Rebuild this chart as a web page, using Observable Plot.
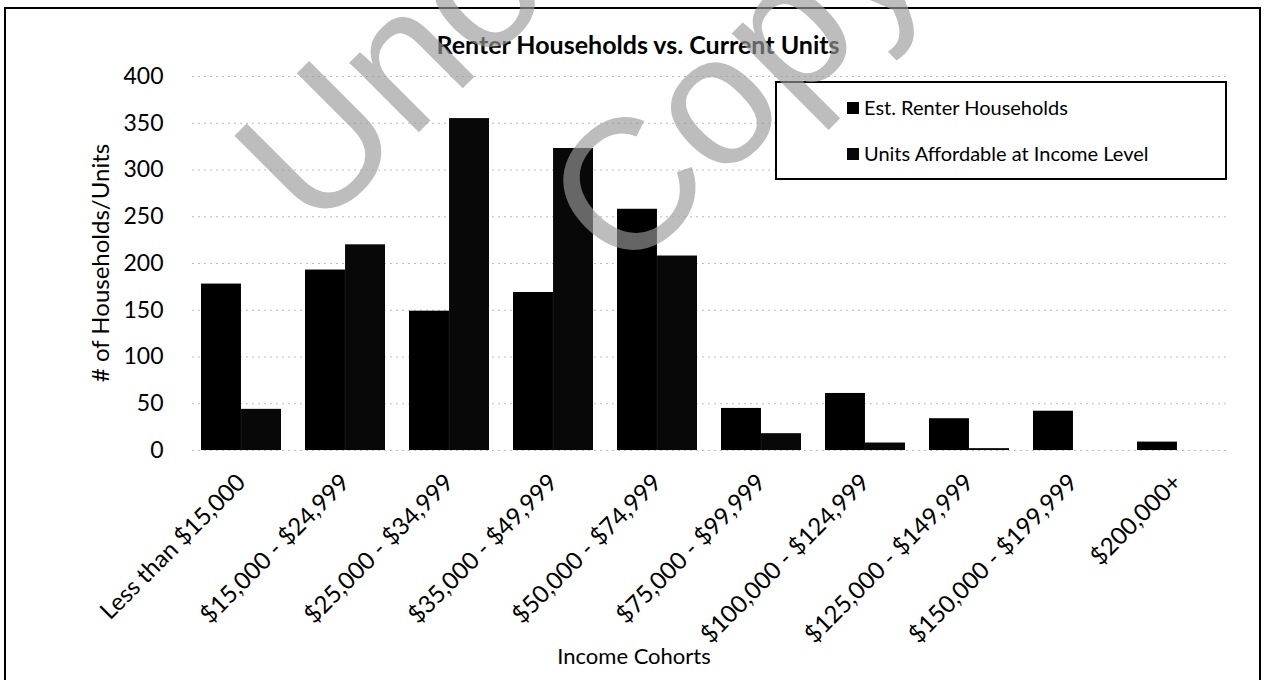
<!DOCTYPE html>
<html>
<head>
<meta charset="utf-8">
<script src="https://cdn.jsdelivr.net/npm/d3@7"></script>
<script src="https://cdn.jsdelivr.net/npm/@observablehq/plot@0.6"></script>
<style>
  html, body { margin: 0; padding: 0; background: #fff; }
  #wrap { position: relative; width: 1272px; height: 680px; overflow: hidden; background: #fff; font-family: Lato, "Open Sans", sans-serif; }
  #chart { position: absolute; left: 0; top: 0; }
  #frame { position: absolute; left: 4px; top: 7px; width: 1257px; height: 700px; border: 2px solid #000; box-sizing: border-box; pointer-events: none; }
  #overlay { position: absolute; left: 0; top: 0; pointer-events: none; }
</style>
</head>
<body>
<div id="wrap">
  <div id="chart"></div>
  <div id="frame"></div>
  <svg id="overlay" width="1272" height="680"></svg>
</div>
<script>
// ---- data ----
const categories = [
  "Less than $15,000", "$15,000 - $24,999", "$25,000 - $34,999", "$35,000 - $49,999",
  "$50,000 - $74,999", "$75,000 - $99,999", "$100,000 - $124,999", "$125,000 - $149,999",
  "$150,000 - $199,999", "$200,000+"
];
const renterHouseholds = [178, 193, 149, 169, 258, 45, 61, 34, 42, 9];
const affordableUnits = [44, 220, 355, 323, 208, 18, 8, 2, 0, 0];
const seriesNames = ["Est. Renter Households", "Units Affordable at Income Level"];
const yTicks = [0, 50, 100, 150, 200, 250, 300, 350, 400];
const titleText = "Renter Households vs. Current Units";
const yTitle = "# of Households/Units";
const xTitle = "Income Cohorts";
const watermark = ["Unofficial", "Copy"];

// ---- layout ----
const W = 1272, H = 680;
const mL = 192, mR = 45, mT = 76, mB = 230;
const padIn = 0.23, padOut = 0.09;
const band = d3.scaleBand().domain(categories).range([mL, W - mR]).paddingInner(padIn).paddingOuter(padOut);
const half = band.bandwidth() / 2;

const renterRows = categories.map((c, i) => ({cohort: c, series: seriesNames[0], value: renterHouseholds[i]}));
const unitRows = categories.map((c, i) => ({cohort: c, series: seriesNames[1], value: affordableUnits[i]}));

const plot = Plot.plot({
  width: W, height: H,
  marginTop: mT, marginBottom: mB, marginLeft: mL, marginRight: mR,
  style: {fontFamily: "Lato, 'Open Sans', sans-serif", fontSize: "22px", color: "#000", background: "transparent", overflow: "visible"},
  x: {domain: categories, paddingInner: padIn, paddingOuter: padOut},
  y: {domain: [0, 400]},
  marks: [
    Plot.ruleY(yTicks, {stroke: "#bdbdbd", strokeDasharray: "2,4", strokeWidth: 1}),
    Plot.barY(renterRows, {x: "cohort", y: "value", fill: "#000", insetRight: half}),
    Plot.barY(unitRows, {x: "cohort", y: "value", fill: "#080808", insetLeft: half}),
    Plot.axisY({ticks: yTicks, tickSize: 0, tickPadding: 29, fontSize: 23, label: null}),
    Plot.axisX({tickRotate: -45, tickSize: 0, tickPadding: 28, fontSize: 24, label: null})
  ]
});
document.getElementById("chart").appendChild(plot);

// ---- overlay: titles, legend, watermark ----
const svg = d3.select("#overlay");
svg.append("text")
  .attr("x", 638).attr("y", 54)
  .attr("text-anchor", "middle")
  .attr("font-family", "Lato, sans-serif").attr("font-weight", "bold").attr("font-size", 25)
  .text(titleText);

svg.append("text")
  .attr("transform", "translate(99,263) rotate(-90)")
  .attr("text-anchor", "middle").attr("dominant-baseline", "central")
  .attr("font-family", "Lato, sans-serif").attr("font-size", 24)
  .text(yTitle);

svg.append("text")
  .attr("x", 634).attr("y", 664)
  .attr("text-anchor", "middle")
  .attr("font-family", "Lato, sans-serif").attr("font-size", 22)
  .text(xTitle);

// legend
const lg = svg.append("g");
lg.append("rect").attr("x", 776).attr("y", 82).attr("width", 450).attr("height", 97)
  .attr("fill", "#fff").attr("stroke", "#000").attr("stroke-width", 2);
const legendFills = ["#000", "#080808"];
seriesNames.forEach((name, i) => {
  const cy = [108, 154][i];
  lg.append("rect").attr("x", 847).attr("y", cy - 6).attr("width", 12).attr("height", 12).attr("fill", legendFills[i]);
  lg.append("text").attr("x", 864).attr("y", cy + 7)
    .attr("font-family", "Lato, sans-serif").attr("font-size", 20)
    .text(name);
});

// watermark
const wmPos = [[584, -33], [778, 126]];
watermark.forEach((t, i) => {
  svg.append("text")
    .attr("transform", `translate(${wmPos[i][0]},${wmPos[i][1]}) rotate(-45)`)
    .attr("text-anchor", "middle")
    .attr("font-family", "'Liberation Sans', Arial, sans-serif").attr("font-size", 186)
    .attr("fill", "rgb(154,154,154)")
    .attr("opacity", 0.65)
    .text(t);
});
</script>
</body>
</html>
